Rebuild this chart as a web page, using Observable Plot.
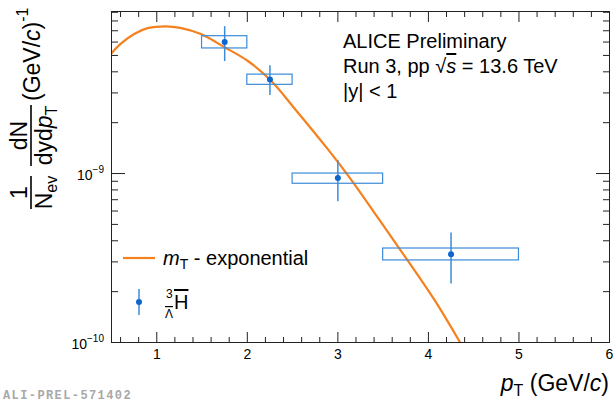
<!DOCTYPE html>
<html>
<head>
<meta charset="utf-8">
<script src="https://cdn.jsdelivr.net/npm/d3@7"></script>
<script src="https://cdn.jsdelivr.net/npm/@observablehq/plot@0.6"></script>
<style>
  html, body { margin: 0; padding: 0; background: #fff; }
  #chart svg { display: block; }
</style>
</head>
<body>
<div id="chart"></div>
<script>
// ---- data ----
const ptCenter = [1.75, 2.25, 3.0, 4.25];
const ptLow    = [1.5, 2.0, 2.5, 3.5];
const ptHigh   = [2.0, 2.5, 3.5, 5.0];
const yieldVal = [6.0e-9, 3.6e-9, 9.4e-10, 3.33e-10];
const statLow  = [4.6e-9, 2.9e-9, 6.8e-10, 2.22e-10];
const statHigh = [7.4e-9, 4.35e-9, 1.19e-9, 4.45e-10];
const sysLow   = [5.5e-9, 3.35e-9, 8.7e-10, 3.06e-10];
const sysHigh  = [6.5e-9, 3.85e-9, 1.0e-9, 3.6e-10];

const fitPt = [0.5, 0.6, 0.75, 0.9, 1.1, 1.26, 1.48, 1.75, 2.01, 2.26, 2.51, 2.9, 3.14, 3.4, 3.67, 4.06, 4.35];
const fitY  = [5.15e-9, 5.85e-9, 6.7e-9, 7.25e-9, 7.44e-9, 7.28e-9, 6.71e-9, 5.59e-9, 4.62e-9, 3.55e-9, 2.47e-9, 1.37e-9, 9.3e-10, 5.9e-10, 3.66e-10, 1.81e-10, 1.0e-10];

const xMajor = [1, 2, 3, 4, 5, 6];
const xMinor = [0.6, 0.8, 1.2, 1.4, 1.6, 1.8, 2.2, 2.4, 2.6, 2.8, 3.2, 3.4, 3.6, 3.8, 4.2, 4.4, 4.6, 4.8, 5.2, 5.4, 5.6, 5.8];
const yMajor = [1e-10, 1e-9];
const yMinor = [2e-10, 3e-10, 4e-10, 5e-10, 6e-10, 7e-10, 8e-10, 9e-10, 2e-9, 3e-9, 4e-9, 5e-9, 6e-9, 7e-9, 8e-9, 9e-9];
const yTickExp = ["\u221210", "\u22129"];

// ---- tables built from the arrays ----
const points = ptCenter.map((x, i) => ({
  x, lo: ptLow[i], hi: ptHigh[i], y: yieldVal[i],
  sl: statLow[i], sh: statHigh[i], yl: sysLow[i], yh: sysHigh[i]
}));
const fit = fitPt.map((x, i) => ({x, y: fitY[i]}));

const ORANGE = "#f5801e";
const BLUE_DOT = "#0b66d0";
const BLUE = "#3d8bd8";
const AX = "#222";
const noText = () => "";

const chart = Plot.plot({
  width: 615, height: 402,
  marginLeft: 111, marginRight: 6, marginTop: 11, marginBottom: 60,
  x: {domain: [0.5, 6]},
  y: {type: "log", domain: [1e-10, 9.1e-9]},
  style: {fontFamily: "'Liberation Sans', Arial, sans-serif", fontSize: "14px", color: "#000", background: "#fff"},
  marks: [
    Plot.line(fit, {x: "x", y: "y", stroke: ORANGE, strokeWidth: 2.2, curve: "catmull-rom", clip: true}),
    Plot.rect(points, {x1: "lo", x2: "hi", y1: "yl", y2: "yh", fill: "none", stroke: BLUE, strokeWidth: 1.2}),
    Plot.ruleX(points, {x: "x", y1: "sl", y2: "sh", stroke: BLUE, strokeWidth: 1.5}),
    Plot.dot(points, {x: "x", y: "y", r: 3, fill: BLUE_DOT, stroke: "none"}),
    Plot.frame({stroke: AX, strokeWidth: 1}),
    // bottom axis
    Plot.axisX({ticks: xMajor, tickSize: -10, tickFormat: noText, label: null, stroke: AX}),
    Plot.axisX({ticks: xMinor, tickSize: -5, tickFormat: noText, label: null, stroke: AX}),
    Plot.axisX({ticks: xMajor, tickSize: 0, tickPadding: 7, tickFormat: d => String(d), label: null, fontSize: 14}),
    // top axis (mirrored ticks)
    Plot.axisX({anchor: "top", ticks: xMajor, tickSize: -10, tickFormat: noText, label: null, stroke: AX}),
    Plot.axisX({anchor: "top", ticks: xMinor, tickSize: -5, tickFormat: noText, label: null, stroke: AX}),
    // left axis
    Plot.axisY({ticks: yMajor, tickSize: -14, tickFormat: noText, label: null, stroke: AX}),
    Plot.axisY({ticks: yMinor, tickSize: -7, tickFormat: noText, label: null, stroke: AX}),
    // right axis (mirrored ticks)
    Plot.axisY({anchor: "right", ticks: yMajor, tickSize: -14, tickFormat: noText, label: null, stroke: AX}),
    Plot.axisY({anchor: "right", ticks: yMinor, tickSize: -7, tickFormat: noText, label: null, stroke: AX})
  ]
});

document.getElementById("chart").appendChild(chart);

// ---- text overlays (real text) ----
const svg = d3.select(chart);
const ys = chart.scale("y");
const FONT = "'Liberation Sans', Arial, sans-serif";
const layer = svg.append("g").attr("text-anchor", "start").attr("font-family", FONT).attr("fill", "#000");

// y tick labels 10^n
yMajor.forEach((v, i) => {
  const t = layer.append("text")
    .attr("x", 104).attr("y", ys.apply(v) + 7)
    .attr("text-anchor", "end").attr("font-size", 14);
  t.append("tspan").text("10");
  t.append("tspan").attr("dy", -7).attr("font-size", 10).text(yTickExp[i]);
});

// x axis title: p_T (GeV/c)
{
  const t = layer.append("text")
    .attr("x", 609).attr("y", 391).attr("text-anchor", "end").attr("font-size", 23);
  t.append("tspan").attr("font-style", "italic").text("p");
  t.append("tspan").attr("dy", 5).attr("font-size", 16).text("T");
  t.append("tspan").attr("dy", -5).text(" (GeV/");
  t.append("tspan").attr("font-style", "italic").text("c");
  t.append("tspan").text(")");
}

// y axis title, rotated
{
  const g = layer.append("g").attr("transform", "translate(31,220) rotate(-90)");
  const fs = 23;
  // fraction 1 / N_ev
  g.append("line").attr("x1", 11).attr("x2", 44).attr("y1", 0).attr("y2", 0).attr("stroke", "#000").attr("stroke-width", 1.6);
  g.append("text").attr("x", 27.5).attr("y", -4).attr("text-anchor", "middle").attr("font-size", fs).text("1");
  {
    const t = g.append("text").attr("x", 27.5).attr("y", 21).attr("text-anchor", "middle").attr("font-size", fs);
    t.append("tspan").text("N");
    t.append("tspan").attr("dy", 5).attr("font-size", 16).text("ev");
  }
  // fraction dN / dy dp_T
  g.append("line").attr("x1", 54).attr("x2", 115).attr("y1", 0).attr("y2", 0).attr("stroke", "#000").attr("stroke-width", 1.6);
  g.append("text").attr("x", 84.5).attr("y", -4).attr("text-anchor", "middle").attr("font-size", fs).text("dN");
  {
    const t = g.append("text").attr("x", 84.5).attr("y", 21).attr("text-anchor", "middle").attr("font-size", fs);
    t.append("tspan").text("dyd");
    t.append("tspan").attr("font-style", "italic").text("p");
    t.append("tspan").attr("dy", 5).attr("font-size", 16).text("T");
  }
  // (GeV/c)^-1
  {
    const t = g.append("text").attr("x", 119).attr("y", 9).attr("text-anchor", "start").attr("font-size", fs);
    t.append("tspan").text("(GeV/");
    t.append("tspan").attr("font-style", "italic").text("c");
    t.append("tspan").text(")");
    t.append("tspan").attr("dy", -12).attr("font-size", 16).text("-1");
  }
}

// ALICE labels
{
  const g = layer.append("g").attr("font-size", 20);
  g.append("text").attr("x", 343).attr("y", 48).text("ALICE Preliminary");
  const t = g.append("text").attr("x", 343).attr("y", 73);
  t.append("tspan").text("Run 3, pp ");
  t.append("tspan").text("\u221A");
  t.append("tspan").attr("font-style", "italic").attr("text-decoration", "overline").text("s");
  t.append("tspan").text(" = 13.6 TeV");
  g.append("text").attr("x", 343).attr("y", 98).text("|y| < 1");
}

// legend
{
  const g = layer.append("g");
  g.append("line").attr("x1", 123).attr("x2", 155).attr("y1", 258).attr("y2", 258).attr("stroke", ORANGE).attr("stroke-width", 2.2);
  const t = g.append("text").attr("x", 163).attr("y", 265).attr("font-size", 20);
  t.append("tspan").attr("font-style", "italic").text("m");
  t.append("tspan").attr("dy", 4).attr("font-size", 14).text("T");
  t.append("tspan").attr("dy", -4).text(" - exponential");

  g.append("line").attr("x1", 139).attr("x2", 139).attr("y1", 289).attr("y2", 315).attr("stroke", BLUE).attr("stroke-width", 1.5);
  g.append("circle").attr("cx", 139).attr("cy", 302).attr("r", 3).attr("fill", BLUE_DOT);
  g.append("text").attr("x", 166).attr("y", 298).attr("font-size", 12).text("3");
  g.append("text").attr("x", 165).attr("y", 318).attr("font-size", 12).attr("text-decoration", "overline").text("\u039B");
  g.append("text").attr("x", 174).attr("y", 309).attr("font-size", 20).attr("text-decoration", "overline").text("H");
}

// watermark id
layer.append("text").attr("x", 3).attr("y", 399)
  .attr("font-family", "'Liberation Mono', 'DejaVu Sans Mono', monospace")
  .attr("font-weight", "bold").attr("font-size", 12).attr("letter-spacing", 1.4)
  .attr("fill", "#a8a8a8").text("ALI-PREL-571402");
</script>
</body>
</html>
